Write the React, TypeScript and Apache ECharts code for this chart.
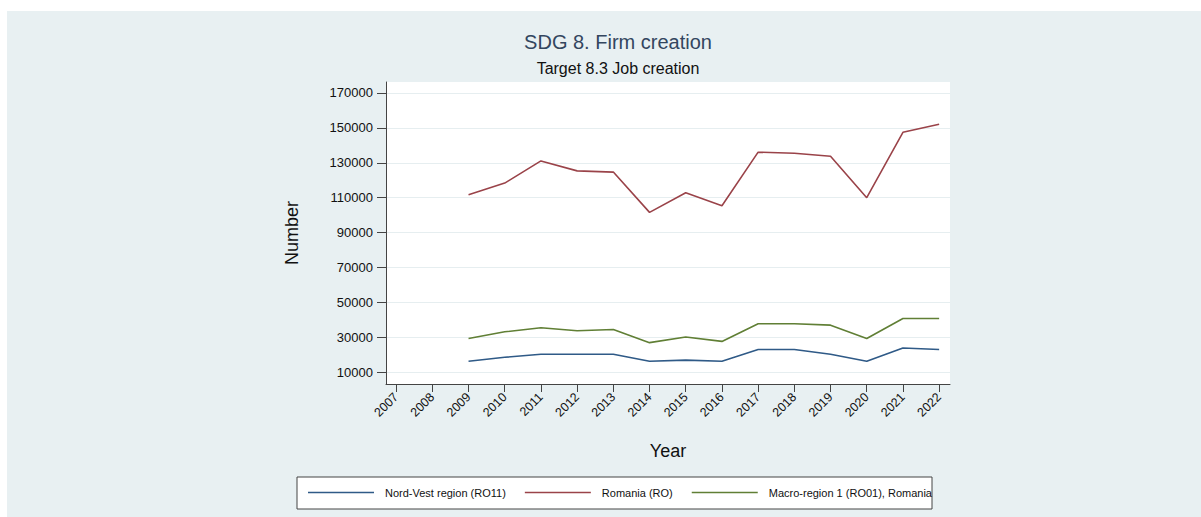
import React, { useEffect, useRef } from "react";
import * as echarts from "echarts";

const years = [2009, 2010, 2011, 2012, 2013, 2014, 2015, 2016, 2017, 2018, 2019, 2020, 2021, 2022];
const xTickYears = [2007, 2008, 2009, 2010, 2011, 2012, 2013, 2014, 2015, 2016, 2017, 2018, 2019, 2020, 2021, 2022];
const yTicks = [10000, 30000, 50000, 70000, 90000, 110000, 130000, 150000, 170000];

const nordVest = [16300, 18600, 20300, 20300, 20300, 16300, 17000, 16300, 23100, 23100, 20300, 16300, 23900, 23100];
const romania = [111700, 118400, 131100, 125400, 124700, 101600, 112900, 105400, 136100, 135500, 133800, 110000, 147500, 152100];
const macroRegion = [29400, 33200, 35500, 33800, 34500, 27000, 30200, 27700, 37800, 37800, 37000, 29400, 40800, 40800];

const seriesNames = ["Nord-Vest region (RO11)", "Romania (RO)", "Macro-region 1 (RO01), Romania"];
const seriesColors = ["#2f5a87", "#9a4349", "#607f35"];

const FONT = "'Liberation Sans', Arial, Helvetica, sans-serif";

export default function App() {
  const ref = useRef<HTMLDivElement>(null);
  useEffect(() => {
    if (!ref.current) return;
    const chart = echarts.init(ref.current, null, { renderer: "svg" });
    const pair = (vals: number[]) => years.map((y, i) => [y, vals[i]]);
    const allSeries = [nordVest, romania, macroRegion];
    chart.setOption({
      animation: false,
      textStyle: { fontFamily: FONT },
      graphic: [
        { type: "rect", z: -10, shape: { x: 7, y: 11, width: 1194, height: 506 }, style: { fill: "#e8f0f2" }, silent: true },
        { type: "rect", z: -5, shape: { x: 297, y: 477, width: 635, height: 32 }, style: { fill: "#ffffff", stroke: "#444", lineWidth: 1 }, silent: true },
      ],
      title: [
        { text: "SDG 8. Firm creation", left: 613, top: 27, textAlign: "center", textStyle: { fontSize: 20, fontWeight: "normal", color: "#33465f", fontFamily: FONT } },
        { text: "Target 8.3 Job creation", left: 613, top: 55, textAlign: "center", textStyle: { fontSize: 16, fontWeight: "normal", color: "#111", fontFamily: FONT } },
      ],
      legend: {
        left: 308,
        top: 487,
        itemWidth: 66,
        itemHeight: 1.6,
        itemGap: 19,
        icon: "rect",
        padding: 0,
        textStyle: { fontSize: 11, color: "#111", fontFamily: FONT, padding: [0, 0, 0, 6] },
        data: seriesNames.map((n, i) => ({ name: n, itemStyle: { color: seriesColors[i] } })),
      },
      grid: { left: 386, right: 251, top: 82, bottom: 133, show: true, backgroundColor: "#ffffff", borderWidth: 0 },
      xAxis: {
        type: "value",
        min: 2006.72,
        max: 2022.3,
        name: "Year",
        nameLocation: "middle",
        nameGap: 58,
        nameTextStyle: { fontSize: 18, color: "#111", fontFamily: FONT },
        axisLine: { show: true, lineStyle: { color: "#444", width: 1 } },
        axisTick: { show: true, length: 8, lineStyle: { color: "#444" }, customValues: xTickYears },
        axisLabel: { rotate: 45, fontSize: 12.5, color: "#111", margin: 11, customValues: xTickYears, formatter: (v: number) => String(Math.round(v)) },
        splitLine: { show: false },
      },
      yAxis: {
        type: "value",
        min: 3300,
        max: 176300,
        name: "Number",
        nameLocation: "middle",
        nameGap: 85,
        nameRotate: 90,
        nameTextStyle: { fontSize: 18, color: "#111", fontFamily: FONT },
        axisLine: { show: true, lineStyle: { color: "#444", width: 1 } },
        axisTick: { show: true, length: 9, lineStyle: { color: "#444" }, customValues: yTicks },
        axisLabel: { fontSize: 13, color: "#111", margin: 13, customValues: yTicks, formatter: (v: number) => String(Math.round(v)) },
        splitLine: { show: true, lineStyle: { color: "#e6eef0", width: 1 } },
      },
      series: allSeries.map((vals, i) => ({
        name: seriesNames[i],
        type: "line",
        data: pair(vals),
        showSymbol: false,
        symbol: "none",
        lineStyle: { color: seriesColors[i], width: 1.6 },
        itemStyle: { color: seriesColors[i] },
      })),
    });
    return () => chart.dispose();
  }, []);
  return <div ref={ref} style={{ position: "fixed", left: 0, top: 0, width: 1201, height: 517, background: "#fff" }} />;
}
